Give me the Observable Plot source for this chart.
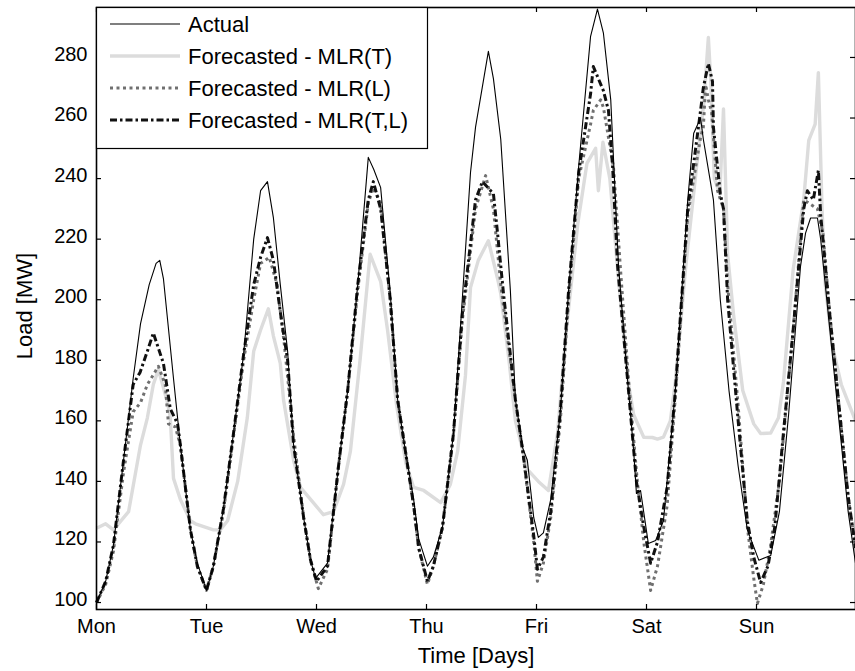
<!DOCTYPE html>
<html><head><meta charset="utf-8">
<script src="https://cdn.jsdelivr.net/npm/d3@7"></script>
<script src="https://cdn.jsdelivr.net/npm/@observablehq/plot@0.6"></script>
<style>body{margin:0;background:#fff}</style>
</head><body><div id="chart"></div>
<script>
const dayLabels = ["Mon","Tue","Wed","Thu","Fri","Sat","Sun"];
const dayTicks = [0,24,48,72,96,120,144];
const loadTicks = [100,120,140,160,180,200,220,240,260,280];
const seriesNames = ["Actual","Forecasted - MLR(T)","Forecasted - MLR(L)","Forecasted - MLR(T,L)"];

// [hour, load MW]
const actual = [
[0,100],[2,107],[3.7,119],[5.9,147],[8,174],[9.6,192],[11.5,205],[13,212],[13.8,213],[14.6,207],[16.8,174],[18.3,152],[20.5,124],[22,113],[24,104],
[25.5,112],[27.7,131],[29.9,156],[32.1,182],[34.3,220],[35.8,236],[37.3,239],[38.6,227],[40.1,205],[41.7,183],[43,152],[45.2,128],[46.7,114],[47.8,108],
[50.4,113],[52.8,145],[54.8,170],[57,205],[59.3,247],[60.5,243],[62,237],[64.1,202],[65.7,167],[67.4,150],[69.2,134],[70.3,121],[72.2,112],
[73.5,115],[75.5,125],[77.9,156],[79.8,200],[81.6,242],[82.7,257],[85.5,282],[86.6,273],[88.2,253],[90.3,203],[91.4,167],[93,151],[94,147],[95.4,128],[96.4,121.5],[97.5,123],[99.1,134],[101.2,163],
[103,203],[105.2,244],[107.8,287],[109.3,296],[110.6,288],[112.2,266],[113.9,211],[115.9,173],[117.2,150],[117.8,136],[118.7,137],[120.4,119.5],[122,120.5],[123.7,127],
[126.3,170],[129,233],[130.3,255],[131.8,260],[132.4,253],[134.6,233],[136.1,200],[138,170],[140,145],[142,124],[144.5,114],[147.1,115.5],
[149,130],[151,162],[153.6,211],[154.7,222],[155.8,227],[157.3,227],[158,220],[160,190],[162,160],[164,130],[165.6,113]
];
const mlrT = [
[0,124.5],[2,126],[3.7,124],[7,130],[9.6,152],[11.1,161],[12.4,172],[13.5,177],[15.5,166],[16.1,161],[16.8,141],[18.3,134],[20.5,127],[21.6,126],[25.5,124],[27,124],[28.6,127],[30.8,140],[32.9,161],[34.3,183],[35.8,190],[37.5,197],[38.6,188],[40.1,179],[40.8,167],[43,147],[44.5,138],[47.3,133],[49.5,129],[51.7,130],[53.9,139],[55.4,150],[57.5,180],[59.7,215],[62,206],[63.5,190],[65.5,165],[67.5,146],[69.2,138],[71.4,137],[75.1,133],[77.2,139],[78.8,150],[80.5,175],[81.6,204],[83.3,213],[85.5,219.5],[87.5,207],[88.2,202],[90,180],[91.4,160],[94,144],[96.4,140],[98.6,137],[100.6,156],[102.5,190],[105,225],[107,245],[108.9,250],[109.5,236],[110.5,252],[112,240],[114,205],[116,173],[117.2,162],[119.4,154.6],[121.3,154.5],[122.4,154],[123.7,154.6],[125.2,160],[126.3,173],[128.5,210],[131,245],[132.5,265],[133.5,286.6],[134,273],[134.8,240],[136,235],[136.8,263],[137.7,215],[139,195],[141,170],[143.4,159],[144.9,155.8],[147.1,156],[148.8,161],[149.9,173],[152,210],[154.3,233],[155.4,252.6],[156.8,258],[157.5,275],[158.3,230],[159,205],[160.5,185],[162.5,172],[165.6,160]
];
const mlrL = [
[0,100],[2,106],[3.7,117],[5.9,143],[8,163],[9.6,166],[11.1,172],[13.5,178],[15,172],[15.7,159],[17.2,158],[18.3,152],[20.5,124],[22,112],[24,104],
[25.5,112],[27.7,130],[29.9,155],[32.1,180],[34.3,200],[35.8,212],[37.7,214],[39.4,205],[41,185],[43,155],[45.2,128],[46.7,114],[48.4,104.6],
[50.4,111],[52.8,145],[54.8,170],[57,203],[59.3,232],[60.4,237],[62,232],[64.1,200],[65.7,167],[67.4,150],[69.2,132],[70.3,118],[72.2,106],
[73.5,112],[75.5,125],[77.9,156],[79.8,193],[82.7,230],[84.9,241],[86.6,230],[88.2,205],[91.4,167],[93,150],[95.4,120],[96.2,107],[97.5,113],[99.1,128],[101.2,160],
[103,200],[105.2,240],[107.8,258],[108.4,262.5],[110,266],[110.6,263.5],[112.8,243.7],[114.3,210.6],[116,175],[118,140],[119.4,120],[120.9,104],[122.4,112],[124.5,132],
[126.3,168],[129,228],[131.8,253.6],[132.4,257],[132.9,271],[133.5,266],[134.2,262],[135.5,236],[136.8,230],[137.7,205],[140,165],[142,125],[143.4,108],[144.2,99.7],[145.5,106],[147,118],
[149,140],[152,190],[154.3,233],[157.3,230],[158.5,222],[160,195],[162,165],[164,135],[165.6,118]
];
const mlrTL = [
[0,100],[2,107],[3.7,119],[5.9,147],[8,172],[9.5,176],[11.1,183],[12.4,189],[13.5,184],[14.6,179],[16.1,164],[17.7,159],[18.3,152],[20.5,124],[22,112],[24,104],
[25.5,112],[27.7,131],[29.9,156],[32.1,182],[34.3,205],[35.8,214],[37.3,220.5],[38.6,213],[40.1,196],[41.7,180],[43,152],[45.2,128],[46.7,114],[48,107],
[50.4,112],[52.8,145],[54.8,170],[57,205],[59.3,233],[60.4,239],[62,230],[64.1,200],[65.7,167],[67.4,150],[69.2,132],[70.3,118],[72.2,107],
[73.5,112],[75.5,125],[77.9,156],[79.8,195],[82.7,233],[84.2,239],[86.6,235],[87.5,222],[88.8,202],[91.4,167],[93,150],[95.4,122],[96.2,111],[97.5,115],[99.1,130],[101.2,163],
[103,203],[105.2,242],[107.8,268],[108.4,277],[110.6,269],[111.7,262.5],[112.6,244],[113.7,211],[115.9,173],[117.8,140],[119.4,125],[120.9,113],[122.4,120],[124.5,138],
[126.3,170],[129,230],[131.8,262.5],[132.4,270],[133.5,278],[134.4,272],[134.6,257],[136.1,235],[136.8,230],[137.7,200],[140,160],[142,127],[143.4,115],[144.9,106.6],[146.5,112],[148,125],
[150,158],[152,190],[154.3,230],[155.1,236],[156.4,233],[157.5,242.7],[158,228],[160,195],[162,165],[164,135],[165.6,118]
];

const rows = (pairs, name) => pairs.map(([h, v]) => ({hour: h, load: v, series: name}));

const W = 855, H = 671, mL = 96, mR = 0, mT = 7, mB = 62;
const innerW = W - mL - mR, innerH = H - mT - mB;
const tickLen = 5;
const FONT = "'Liberation Sans', Arial, Helvetica, sans-serif";

const styles = {
  "Actual": {stroke: "#000", strokeWidth: 1.1, dash: null},
  "Forecasted - MLR(T)": {stroke: "#dcdcdc", strokeWidth: 3.4, dash: null},
  "Forecasted - MLR(L)": {stroke: "#707070", strokeWidth: 3, dash: "3,3.5"},
  "Forecasted - MLR(T,L)": {stroke: "#111", strokeWidth: 3, dash: "7,3,2.5,3"}
};
const lineOpts = name => ({x: "hour", y: "load", stroke: styles[name].stroke, strokeWidth: styles[name].strokeWidth,
  strokeDasharray: styles[name].dash, strokeLinejoin: "round", strokeLinecap: "butt"});

const plot = Plot.plot({
  width: W, height: H,
  marginLeft: mL, marginRight: mR, marginTop: mT, marginBottom: mB,
  style: {fontFamily: FONT, fontSize: "20px", color: "#000", background: "#fff"},
  x: {domain: [0, 165.6], label: null},
  y: {domain: [97.7, 296.5], label: null},
  marks: [
    Plot.line(rows(mlrT, seriesNames[1]), lineOpts(seriesNames[1])),
    Plot.line(rows(mlrL, seriesNames[2]), lineOpts(seriesNames[2])),
    Plot.line(rows(mlrTL, seriesNames[3]), lineOpts(seriesNames[3])),
    Plot.line(rows(actual, seriesNames[0]), lineOpts(seriesNames[0])),
    Plot.tickX(dayTicks, {x: d => d, insetTop: innerH - tickLen, stroke: "#000", strokeWidth: 1.2}),
    Plot.tickX(dayTicks, {x: d => d, insetBottom: innerH - tickLen, stroke: "#000", strokeWidth: 1.2}),
    Plot.tickY(loadTicks, {y: d => d, insetRight: innerW - tickLen, stroke: "#000", strokeWidth: 1.2}),
    Plot.tickY(loadTicks, {y: d => d, insetLeft: innerW - tickLen, stroke: "#000", strokeWidth: 1.2}),
    Plot.frame({stroke: "#000", strokeWidth: 1.6}),
    Plot.axisX(dayTicks, {tickSize: 0, tickPadding: 9, tickFormat: d => dayLabels[dayTicks.indexOf(d)], label: null, fontSize: 20}),
    Plot.axisY(loadTicks, {tickSize: 0, tickPadding: 9, dy: -3, label: null, fontSize: 20})
  ]
});

const svg = d3.select(plot);
// axis titles
svg.append("text").attr("x", 476).attr("y", 663).attr("text-anchor", "middle")
  .attr("font-family", FONT).attr("font-size", 22).attr("fill", "#000").text("Time [Days]");
svg.append("text").attr("transform", "translate(32,306) rotate(-90)").attr("text-anchor", "middle")
  .attr("font-family", FONT).attr("font-size", 22).attr("fill", "#000").text("Load [MW]");

// legend
const lg = svg.append("g").attr("font-family", FONT).attr("font-size", 22).attr("text-anchor", "start");
lg.append("rect").attr("x", 96.5).attr("y", 7.5).attr("width", 331).attr("height", 141)
  .attr("fill", "#fff").attr("stroke", "#000").attr("stroke-width", 1.2);
const rowY = [24, 56, 88, 120];
seriesNames.forEach((name, i) => {
  const s = styles[name];
  lg.append("line").attr("x1", 110).attr("x2", 180).attr("y1", rowY[i]).attr("y2", rowY[i])
    .attr("stroke", s.stroke).attr("stroke-width", s.strokeWidth).attr("stroke-dasharray", s.dash)
    .attr("stroke-linecap", "butt");
  lg.append("text").attr("x", 188).attr("y", rowY[i]).attr("dy", "0.36em")
    .attr("text-anchor", "start").attr("fill", "#000").text(name);
});

document.getElementById("chart").appendChild(plot);
</script>
</body></html>
